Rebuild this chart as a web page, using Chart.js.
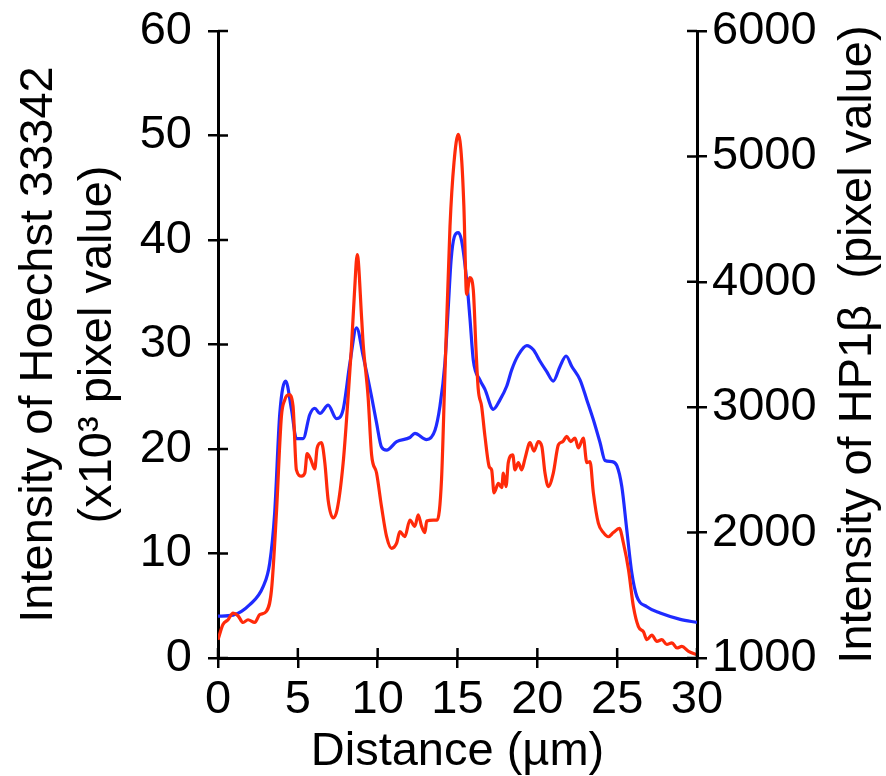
<!DOCTYPE html>
<html>
<head>
<meta charset="utf-8">
<script src="https://cdn.jsdelivr.net/npm/chart.js@4.4.1/dist/chart.umd.min.js"></script>
<style>
    html, body { margin: 0; padding: 0; background: #FFFFFF; }
    #contenedor { width: 886px; height: 776px; }
</style>
</head>
<body>
<div id="contenedor"><canvas id="graficaPerfil"></canvas></div>
<script>
// Perfil Hoechst 33342 (eje izquierdo, x10^3)
const distanciaHoechst = [0, 0.94, 1.99, 2.82, 3.24, 3.55, 3.87, 4.24, 4.6, 4.91, 5.33, 5.75, 6.06, 6.38, 6.9,
    7.42, 7.84, 8.26, 8.68, 9.09, 9.62, 9.93, 10.24, 10.56, 11.19, 12.02, 12.33, 13.06, 13.59, 13.9,
    14.21, 14.42, 14.6, 14.8, 15.05, 15.26, 15.57, 15.78, 15.99, 16.41, 16.72, 17.24, 17.66, 18.08, 18.4,
    18.81, 19.34, 19.75, 20.17, 20.59, 21.0, 21.42, 21.8, 22.16, 22.68, 23.1, 23.51, 23.93, 24.24, 24.66,
    24.98, 25.29, 25.6, 25.92, 26.23, 26.86, 27.69, 28.95, 30];
const valoresHoechst = [4.0, 4.1, 5.1, 6.8, 9.1, 13.9, 23.4, 26.5, 23.8, 21.0, 21.0, 23.3, 23.9, 23.4, 24.2,
    22.9, 23.8, 28.2, 31.6, 28.9, 25.0, 22.5, 20.2, 19.9, 20.7, 21.1, 21.5, 20.9, 21.8, 24.1,
    28.2, 33.5, 38.1, 40.3, 40.7, 39.9, 36.2, 32.5, 28.5, 26.6, 25.7, 23.8, 24.7, 26.0, 27.6,
    29.0, 29.9, 29.5, 28.4, 27.4, 26.5, 27.9, 28.9, 27.9, 26.6, 24.7, 22.8, 20.6, 18.9, 18.8,
    18.4, 16.4, 12.3, 8.1, 5.9, 4.9, 4.3, 3.7, 3.4];

// Perfil HP1beta (eje derecho, valor de pixel)
const distanciaHP1 = [0, 0.31, 0.63, 0.94, 1.25, 1.57, 1.88, 2.3, 2.61, 3.03, 3.35, 3.66, 3.97, 4.18, 4.45,
    4.7, 4.91, 5.23, 5.44, 5.58, 5.81, 6.06, 6.21, 6.48, 6.69, 6.9, 7.21, 7.46, 7.84, 8.15,
    8.36, 8.55, 8.72, 9.0, 9.09, 9.4, 9.62, 9.93, 10.24, 10.56, 10.87, 11.19, 11.39, 11.7, 12.02,
    12.33, 12.54, 12.75, 12.96, 13.07, 13.48, 13.73, 14.0, 14.21, 14.53, 14.78, 15.05, 15.26, 15.4, 15.57,
    15.78, 15.99, 16.16, 16.3, 16.51, 16.72, 16.99, 17.14, 17.29, 17.56, 17.77, 17.87, 18.04, 18.18, 18.46,
    18.6, 18.81, 19.02, 19.23, 19.54, 19.79, 20.06, 20.28, 20.48, 20.69, 21.0, 21.32, 21.59, 21.84, 22.09,
    22.36, 22.57, 22.88, 23.1, 23.3, 23.51, 23.82, 24.14, 24.45, 24.76, 25.14, 25.39, 25.71, 26.02, 26.33,
    26.65, 26.86, 27.17, 27.49, 27.8, 28.11, 28.43, 28.74, 29.05, 29.47, 30];
const valoresHP1 = [1146, 1267, 1305, 1358, 1337, 1283, 1305, 1283, 1345, 1372, 1542, 2158, 2925, 3058, 3100,
    3008, 2500, 2450, 2475, 2629, 2583, 2508, 2675, 2717, 2558, 2258, 2117, 2183, 2558, 3083,
    3483, 3920, 4217, 3700, 3508, 3083, 2621, 2475, 2208, 1967, 1875, 1917, 2008, 1967, 2100,
    2050, 2142, 2050, 2000, 2092, 2100, 2100, 2425, 3250, 4442, 4950, 5175, 4975, 4600, 3900,
    4033, 3933, 3458, 3142, 3008, 2767, 2525, 2500, 2317, 2392, 2358, 2475, 2367, 2558, 2621,
    2500, 2558, 2500, 2592, 2717, 2650, 2725, 2688, 2475, 2367, 2475, 2700, 2725, 2767, 2725,
    2754, 2675, 2754, 2558, 2567, 2317, 2075, 2000, 1967, 2000, 2033, 1917, 1704, 1408, 1250,
    1208, 1146, 1183, 1133, 1146, 1108, 1121, 1080, 1092, 1053, 1025];

const ticksDistancia = [0, 5, 10, 15, 20, 25, 30];
const ticksHoechst = [0, 10, 20, 30, 40, 50, 60];
const ticksHP1 = [1000, 2000, 3000, 4000, 5000, 6000];

const fuente = "'Liberation Sans', Arial, sans-serif";
Chart.defaults.font.family = fuente;
Chart.defaults.color = '#000000';

// Marcas hacia dentro del area (los ticks cruzan el eje)
const marcasInternas = {
    id: 'marcasInternas',
    afterDraw(chart) {
        const ctx = chart.ctx;
        const area = chart.chartArea;
        ctx.save();
        ctx.strokeStyle = '#000000';
        ctx.lineWidth = 2.5;
        ctx.beginPath();
        chart.scales.x.ticks.forEach(t => {
            const px = chart.scales.x.getPixelForValue(t.value);
            ctx.moveTo(px, area.bottom);
            ctx.lineTo(px, area.bottom - 10);
        });
        chart.scales.y.ticks.forEach(t => {
            const py = chart.scales.y.getPixelForValue(t.value);
            ctx.moveTo(area.left, py);
            ctx.lineTo(area.left + 10, py);
        });
        chart.scales.y1.ticks.forEach(t => {
            const py = chart.scales.y1.getPixelForValue(t.value);
            ctx.moveTo(area.right, py);
            ctx.lineTo(area.right - 10, py);
        });
        ctx.stroke();

        // titulo del eje derecho, leido de abajo hacia arriba
        const ejeDer = chart.scales.y1;
        ctx.translate(ejeDer.right - 28, (area.top + area.bottom) / 2);
        ctx.rotate(-Math.PI / 2);
        ctx.font = '47px ' + fuente;
        ctx.fillStyle = '#000000';
        ctx.textAlign = 'center';
        ctx.textBaseline = 'middle';
        ctx.fillText('Intensity of HP1\u03B2  (pixel value)', 0, 0);
        ctx.restore();
    }
};

// Ajustar el espacio de cada eje para que el area quede fija
function fijarAncho(ancho) {
    return (eje) => {
        eje.width = ancho;
        eje.paddingTop = 0;
        eje.paddingBottom = 0;
    };
}

const ctx = document.getElementById('graficaPerfil').getContext('2d');

new Chart(ctx, {
    type: 'line',
    data: {
        datasets: [{
            label: 'HP1\u03B2',
            data: distanciaHP1.map((d, i) => ({ x: d, y: valoresHP1[i] })),
            yAxisID: 'y1',
            borderColor: '#FF2A0A',
            borderWidth: 3.2,
            pointRadius: 0,
            cubicInterpolationMode: 'monotone',
            order: 1
        }, {
            label: 'Hoechst 33342',
            data: distanciaHoechst.map((d, i) => ({ x: d, y: valoresHoechst[i] })),
            yAxisID: 'y',
            borderColor: '#1F2BFF',
            borderWidth: 3.2,
            pointRadius: 0,
            cubicInterpolationMode: 'monotone',
            order: 2
        }]
    },
    options: {
        responsive: true,
        maintainAspectRatio: false,
        animation: false,
        layout: {
            padding: { top: 31, left: 0, right: 0, bottom: 0 }
        },
        plugins: {
            legend: { display: false },
            tooltip: { enabled: false }
        },
        scales: {
            x: {
                type: 'linear',
                min: 0,
                max: 30,
                afterBuildTicks: (eje) => { eje.ticks = ticksDistancia.map(v => ({ value: v })); },
                afterFit: (eje) => { eje.height = 118; },
                border: { display: true, color: '#000000', width: 3 },
                grid: { drawOnChartArea: false, drawTicks: true, tickLength: 10, color: '#000000', lineWidth: 2.5 },
                ticks: { color: '#000000', padding: 4, maxRotation: 0, font: { size: 47 } },
                title: {
                    display: true,
                    text: 'Distance (\u00B5m)',
                    color: '#000000',
                    font: { size: 47, lineHeight: 1.0 },
                    padding: { top: 0, bottom: 0 }
                }
            },
            y: {
                position: 'left',
                min: 0,
                max: 60,
                afterBuildTicks: (eje) => { eje.ticks = ticksHoechst.map(v => ({ value: v })); },
                afterFit: fijarAncho(218),
                border: { display: true, color: '#000000', width: 3 },
                grid: { drawOnChartArea: false, drawTicks: true, tickLength: 10, color: '#000000', lineWidth: 2.5 },
                ticks: { color: '#000000', padding: 16, font: { size: 47 } },
                title: {
                    display: true,
                    text: ['Intensity of Hoechst 33342', '(x10\u00B3 pixel value)'],
                    color: '#000000',
                    font: { size: 47, lineHeight: 1.26 },
                    padding: { top: 9, bottom: 0 }
                }
            },
            y1: {
                position: 'right',
                min: 1000,
                max: 6000,
                afterBuildTicks: (eje) => { eje.ticks = ticksHP1.map(v => ({ value: v })); },
                afterFit: fijarAncho(189),
                border: { display: true, color: '#000000', width: 3 },
                grid: { drawOnChartArea: false, drawTicks: true, tickLength: 10, color: '#000000', lineWidth: 2.5 },
                ticks: {
                    color: '#000000',
                    padding: 5,
                    font: { size: 47 },
                    callback: (valor) => String(valor)
                }
            }
        }
    },
    plugins: [marcasInternas]
});
</script>
</body>
</html>
